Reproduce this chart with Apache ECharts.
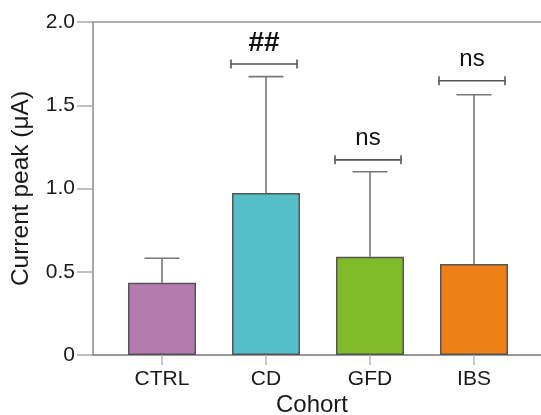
<!DOCTYPE html>
<html>
<head>
<meta charset="utf-8">
<script src="https://cdn.jsdelivr.net/npm/echarts@6/dist/echarts.min.js"></script>
<style>html,body{margin:0;padding:0;background:#fff}#c{width:541px;height:415px}</style>
</head>
<body>
<div id="c"></div>
<script>
const categories = ['CTRL', 'CD', 'GFD', 'IBS'];
const means = [0.434, 0.973, 0.59, 0.547];
const upperErr = [0.581, 1.672, 1.101, 1.563];
const barColors = ['#B57AB0', '#55BFC8', '#80BB2A', '#EF8018'];
const sigLabels = ['', '##', 'ns', 'ns'];
const sigLevels = [null, 1.748, 1.172, 1.647];
const yTicks = [0, 0.5, 1.0, 1.5, 2.0];

const FONT = '"Liberation Sans", Arial, sans-serif';
const chart = echarts.init(document.getElementById('c'));

const errData = categories.map((c, i) => [i, means[i], upperErr[i]]);
const sigData = [];
categories.forEach((c, i) => { if (sigLevels[i] != null) sigData.push([i, sigLevels[i], sigLabels[i]]); });

chart.setOption({
  animation: false,
  textStyle: { fontFamily: FONT },
  grid: [
    { left: 93, right: 0, top: 22, bottom: 60 },
    { left: 110, right: 15, top: 22, bottom: 60 }
  ],
  xAxis: [
    { gridIndex: 0, type: 'value', min: 0, max: 1, axisLine: { show: true, lineStyle: { color: '#777', width: 1.5 } },
      axisTick: { show: false }, axisLabel: { show: false }, splitLine: { show: false } },
    { gridIndex: 0, type: 'value', position: 'top', min: 0, max: 1, axisLine: { show: true, lineStyle: { color: '#999', width: 1.5 } },
      axisTick: { show: false }, axisLabel: { show: false }, splitLine: { show: false } },
    { gridIndex: 1, type: 'category', data: categories, boundaryGap: true,
      axisLine: { show: false },
      axisTick: { show: true, alignWithLabel: true, length: 10, lineStyle: { color: '#bbb', width: 1.5 } },
      axisLabel: { fontSize: 21, color: '#1a1a1a', margin: 14, fontFamily: FONT },
      splitLine: { show: false } }
  ],
  yAxis: [
    { gridIndex: 0, type: 'value', min: 0, max: 2, interval: 0.5,
      axisLine: { show: true, lineStyle: { color: '#888', width: 1.5 } },
      axisTick: { show: true, length: 16, lineStyle: { color: '#aaa', width: 1.5 } },
      axisLabel: { fontSize: 21, color: '#1a1a1a', margin: 18, fontFamily: FONT,
        formatter: v => { const t = yTicks.find(x => Math.abs(x - v) < 1e-9); return t === 0 ? '0' : (t != null ? t.toFixed(1) : ''); } },
      splitLine: { show: false },
      name: 'Current peak (\u03bcA)', nameLocation: 'middle', nameGap: 59,
      nameTextStyle: { fontSize: 24.5, color: '#1a1a1a', fontFamily: FONT } },
    { gridIndex: 1, type: 'value', min: 0, max: 2, show: false }
  ],
  series: [
    { type: 'bar', xAxisIndex: 2, yAxisIndex: 1, barWidth: 68, z: 3,
      data: means.map((v, i) => ({ value: v, itemStyle: { color: barColors[i], borderColor: '#555', borderWidth: 1.5 } })) },
    { type: 'custom', xAxisIndex: 2, yAxisIndex: 1, z: 2, data: errData,
      renderItem: (params, api) => {
        const p0 = api.coord([api.value(0), api.value(1)]);
        const p1 = api.coord([api.value(0), api.value(2)]);
        const hw = 17.5;
        const st = { stroke: '#777', lineWidth: 1.6 };
        return { type: 'group', children: [
          { type: 'line', shape: { x1: p0[0], y1: p0[1], x2: p1[0], y2: p1[1] }, style: st },
          { type: 'line', shape: { x1: p1[0] - hw, y1: p1[1], x2: p1[0] + hw, y2: p1[1] }, style: st }
        ] };
      } },
    { type: 'custom', xAxisIndex: 2, yAxisIndex: 1, z: 4, data: sigData,
      renderItem: (params, api) => {
        const p = api.coord([api.value(0), api.value(1)]);
        const cx = p[0] - 2, y = p[1], hw = 33, th = 4.5;
        const st = { stroke: '#555', lineWidth: 1.6 };
        const lbl = sigData[params.dataIndex][2];
        const font = lbl === '##' ? 'bold 28px ' + FONT : '24px ' + FONT;
        return { type: 'group', children: [
          { type: 'line', shape: { x1: cx - hw, y1: y, x2: cx + hw, y2: y }, style: st },
          { type: 'line', shape: { x1: cx - hw, y1: y - th, x2: cx - hw, y2: y + th }, style: st },
          { type: 'line', shape: { x1: cx + hw, y1: y - th, x2: cx + hw, y2: y + th }, style: st },
          { type: 'text', style: { x: cx, y: y - 21, text: lbl, align: 'center', verticalAlign: 'middle',
              font: font, fill: '#111' } }
        ] };
      } }
  ],
  graphic: [
    { type: 'text', x: 312, y: 405,
      style: { text: 'Cohort', align: 'center', verticalAlign: 'middle', font: '24px ' + FONT, fill: '#1a1a1a' } }
  ]
});
</script>
</body>
</html>
